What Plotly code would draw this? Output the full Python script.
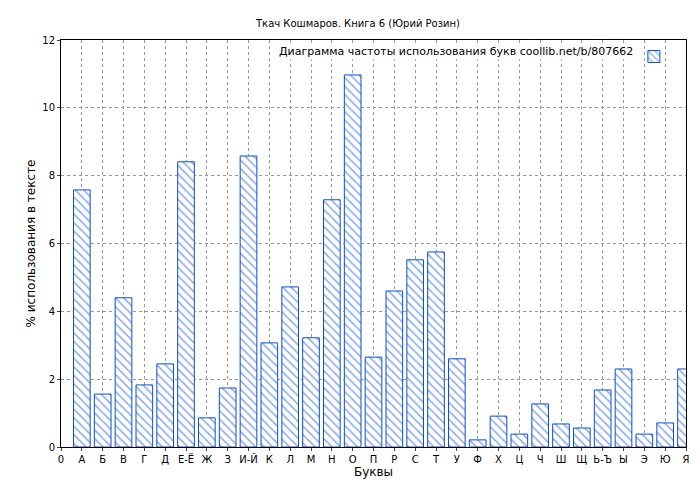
import plotly.graph_objects as go

ticklabels = ["0","А","Б","В","Г","Д","Е-Ё","Ж","З","И-Й","К","Л","М","Н","О","П","Р","С","Т","У","Ф","Х","Ц","Ч","Ш","Щ","Ь-Ъ","Ы","Э","Ю","Я"]
letters = ticklabels[1:]
values = [7.58,1.56,4.40,1.83,2.45,8.41,0.86,1.74,8.58,3.07,4.72,3.22,7.29,10.97,2.65,4.60,5.52,5.75,2.60,0.21,0.91,0.38,1.27,0.68,0.56,1.68,2.30,0.38,0.71,2.30]
positions = list(range(1, len(letters)+1))
legend_text = "Диаграмма частоты использования букв coollib.net/b/807662"

blue = "#0a4fd0"
fig = go.Figure(go.Bar(
    x=positions, y=values, width=0.8, name=" ",
    marker=dict(color="white", line=dict(color=blue, width=1),
                pattern=dict(shape="\\", fgcolor=blue, bgcolor="white", size=6, solidity=0.25)),
))
fig.add_annotation(text=legend_text, xref="paper", yref="paper", x=0.918, y=0.993,
                   xanchor="right", yanchor="top", showarrow=False, bgcolor="white",
                   font=dict(size=11))
fig.update_layout(
    width=700, height=480, paper_bgcolor="white", plot_bgcolor="white",
    margin=dict(l=53, r=22, t=32, b=41, autoexpand=False),
    font=dict(family="DejaVu Sans", size=10, color="black"),
    title=dict(text="Ткач Кошмаров. Книга 6 (Юрий Розин)", x=0.5, y=0.975, xanchor="center", font=dict(size=10)),
    showlegend=True,
    legend=dict(x=0.995, y=0.995, xanchor="right", yanchor="top", bgcolor="rgba(0,0,0,0)", borderwidth=0, font=dict(size=10)),
    xaxis=dict(range=[0, 30], tickvals=list(range(0, 31)), ticktext=ticklabels, showgrid=True, automargin=False,
               gridcolor="#999", griddash="dot", showline=True, linecolor="black", mirror=True,
               ticks="outside", ticklen=3, title=dict(text="Буквы", standoff=2)),
    yaxis=dict(range=[0, 12], dtick=2, showgrid=True, gridcolor="#999", griddash="dot", automargin=False,
               showline=True, linecolor="black", mirror=True, ticks="outside", ticklen=3,
               zeroline=False, title=dict(text="% использования в тексте", standoff=4)),
)
fig.write_html("out.html")
